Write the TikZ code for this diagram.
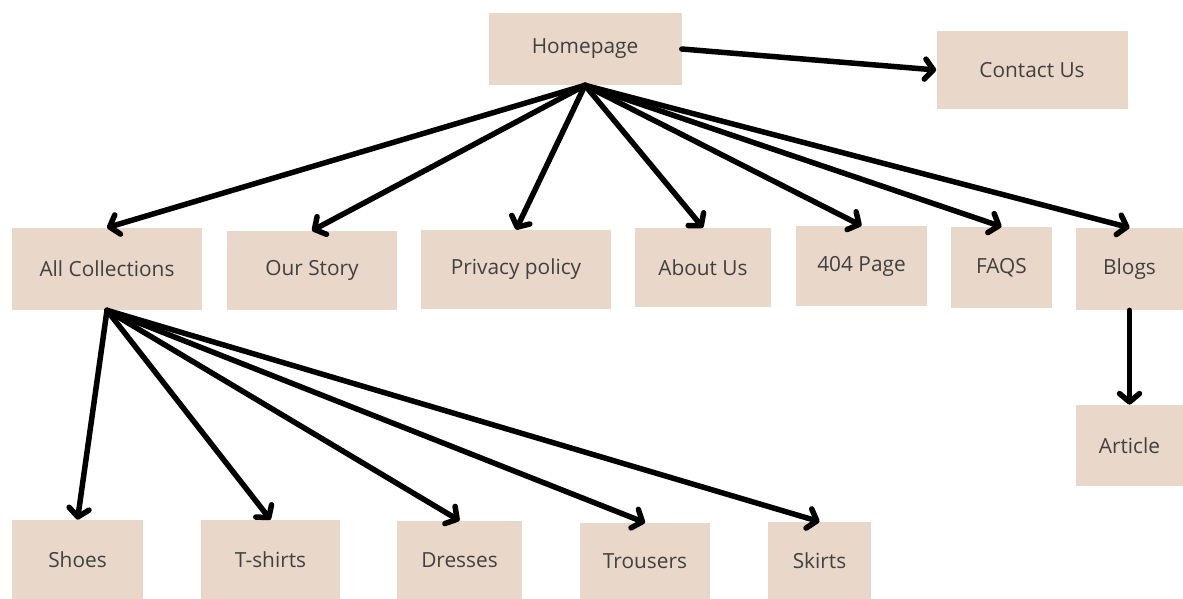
\documentclass[tikz,border=0pt]{standalone}
\usepackage{fontspec}
\setmainfont{Open Sans}
\usetikzlibrary{arrows.meta}
\definecolor{boxfill}{HTML}{E9D8C9}
\definecolor{boxtext}{HTML}{404040}
\tikzset{
  page/.style={fill=boxfill, text=boxtext, inner sep=0pt, font=\fontsize{12.5}{14}\selectfont},
  link/.style={line width=3.3pt, -{Straight Barb[length=5pt, width=12pt, line cap=round, line join=round]}}
}
\begin{document}
\begin{tikzpicture}[x=0.6pt, y=-0.6pt, >=stealth, line join=round, line cap=round]
    \useasboundingbox (0,0) rectangle (1183,599);
    % first level
    \node[page, minimum width=115.8pt, minimum height=43.2pt] (home) at (585,49) {Homepage};
    \node[page, minimum width=114.6pt, minimum height=46.8pt] (contact) at (1032,70) {Contact Us};
    % second level
    \node[page, minimum width=114pt, minimum height=49.2pt] (allc) at (107,269) {All Collections};
    \node[page, minimum width=102pt, minimum height=47.4pt] (story) at (312,270.5) {Our Story};
    \node[page, minimum width=114pt, minimum height=47.4pt] (privacy) at (516,269.5) {Privacy policy};
    \node[page, minimum width=81.6pt, minimum height=47.4pt] (about) at (703,267.5) {About Us};
    \node[page, minimum width=78.6pt, minimum height=48pt] (p404) at (861.5,266) {404 Page};
    \node[page, minimum width=60.6pt, minimum height=48.6pt] (faqs) at (1001.5,267.5) {FAQS};
    \node[page, minimum width=64.2pt, minimum height=49.2pt] (blogs) at (1129.5,269) {Blogs};
    \node[page, minimum width=64.2pt, minimum height=48.6pt] (article) at (1129.5,445.5) {Article};
    % collections
    \node[page, minimum width=78.6pt, minimum height=47.4pt] (shoes) at (77.5,559.5) {Shoes};
    \node[page, minimum width=83.4pt, minimum height=47.4pt] (tshirts) at (270.5,559.5) {T-shirts};
    \node[page, minimum width=75pt, minimum height=46.8pt] (dresses) at (459.5,560) {Dresses};
    \node[page, minimum width=78pt, minimum height=45.6pt] (trousers) at (645,561) {Trousers};
    \node[page, minimum width=61.8pt, minimum height=46.2pt] (skirts) at (819.5,560.5) {Skirts};
    % links
    \draw[link] (home.east) -- (contact.west);
    \foreach \p in {allc,story,privacy,about,p404,faqs,blogs}
        \draw[link] (home.south) -- (\p.north);
    \foreach \p in {shoes,tshirts,dresses,trousers,skirts}
        \draw[link] (allc.south) -- (\p.north);
    \draw[link] (blogs.south) -- (article.north);
\end{tikzpicture}
\end{document}
